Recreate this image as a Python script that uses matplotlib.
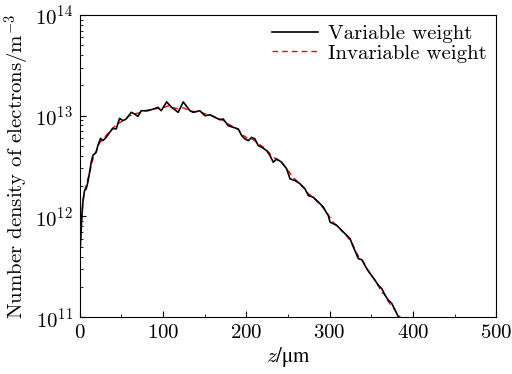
import matplotlib
matplotlib.use("Agg")
import matplotlib.pyplot as plt

plt.rcParams['font.family'] = ['cmr10', 'DejaVu Serif']
plt.rcParams['mathtext.fontset'] = 'cm'
plt.rcParams['axes.formatter.use_mathtext'] = True

# Variable weight (black solid)
z_var = [0, 2.4, 3.6, 5.6, 7.6, 9.6, 11.7, 13.6, 15.6, 19.6, 21.6, 24.9, 27.6, 31.6, 35.7,
         39.7, 43.6, 47.7, 51.7, 55.6, 61.7, 65.7, 69.7, 73.7, 81.7, 87.7, 93.8, 97.7,
         104.2, 110.2, 118.1, 124.2, 132.2, 136.2, 144.2, 150.2, 156.3, 162.3, 168.3,
         172.2, 178.2, 184.3, 190.3, 194.4, 198.3, 202.3, 206.4, 210.3, 214.3, 218.4,
         224.4, 228.4, 232.3, 236.4, 242.4, 248.4, 252.4, 258.4, 264.4, 270.4, 274.4,
         280.4, 286.4, 292.4, 294.5, 298.4, 300.5, 308.5, 316.5, 324.5, 328.5, 334.5,
         338.6, 344.6, 348.6, 354.6, 358.5, 362.6, 366.6, 370.6, 374.6, 380.6, 382.6]
n_var = [4.1e11, 1.02e12, 1.39e12, 1.81e12, 1.88e12, 2.19e12, 2.75e12, 3.45e12, 4.02e12,
         4.34e12, 5.05e12, 5.96e12, 5.65e12, 6.1e12, 6.83e12, 7.48e12, 7.38e12, 9.4e12,
         8.92e12, 9.27e12, 1.08e13, 1.04e13, 9.85e12, 1.12e13, 1.12e13, 1.16e13, 1.21e13,
         1.12e13, 1.37e13, 1.21e13, 1.08e13, 1.37e13, 1.12e13, 1.08e13, 1.12e13, 1.0e13,
         1.02e13, 9.62e12, 9.12e12, 9.27e12, 7.96e12, 7.66e12, 7.38e12, 6.34e12, 5.87e12,
         5.65e12, 6.1e12, 5.87e12, 5.05e12, 4.86e12, 4.5e12, 4.02e12, 3.45e12, 3.72e12,
         3.45e12, 2.97e12, 2.36e12, 2.27e12, 2.11e12, 1.88e12, 1.61e12, 1.55e12, 1.39e12,
         1.24e12, 1.15e12, 1.02e12, 8.79e11, 8.15e11, 7.0e11, 6.01e11, 4.97e11, 3.81e11,
         3.72e11, 3.03e11, 2.71e11, 2.32e11, 2.07e11, 1.92e11, 1.65e11, 1.47e11, 1.37e11,
         1.09e11, 1.0e11]

# Invariable weight (red dashed)
z_inv = [0, 2, 4, 7, 10, 13, 16, 20, 24, 28, 32, 36, 40, 46, 52, 58, 64, 70, 76, 82, 88,
         94, 100, 106, 112, 118, 124, 130, 136, 142, 148, 154, 160, 166, 172, 178, 184,
         190, 196, 202, 208, 214, 220, 226, 232, 238, 244, 250, 256, 262, 268, 274, 280,
         286, 292, 298, 304, 310, 316, 322, 328, 334, 340, 346, 352, 358, 362, 366, 370,
         374, 378, 382, 385]
n_inv = [3.8e11, 9.0e11, 1.5e12, 2.0e12, 2.4e12, 3.0e12, 3.8e12, 4.5e12, 5.4e12, 5.9e12,
         6.4e12, 7.0e12, 7.6e12, 8.3e12, 9.0e12, 9.8e12, 1.04e13, 1.06e13, 1.1e13, 1.14e13,
         1.16e13, 1.18e13, 1.2e13, 1.25e13, 1.2e13, 1.17e13, 1.2e13, 1.14e13, 1.1e13,
         1.1e13, 1.06e13, 1.03e13, 9.9e12, 9.4e12, 9.0e12, 8.3e12, 7.8e12, 7.3e12, 6.4e12,
         5.9e12, 5.8e12, 5.3e12, 4.9e12, 4.4e12, 3.9e12, 3.6e12, 3.3e12, 2.85e12, 2.45e12,
         2.2e12, 1.95e12, 1.7e12, 1.55e12, 1.38e12, 1.22e12, 1.05e12, 8.8e11, 7.9e11,
         7.0e11, 6.2e11, 5.2e11, 4.1e11, 3.6e11, 2.9e11, 2.5e11, 2.1e11, 1.75e11, 1.7e11,
         1.45e11, 1.3e11, 1.2e11, 1.05e11, 1.0e11]

fig = plt.figure(figsize=(5.12, 3.74), dpi=100)
ax = fig.add_axes([0.156, 0.152, 0.813, 0.808])

ax.plot(z_var, n_var, color='black', lw=1.2, label='Variable weight', zorder=3)
ax.plot(z_inv, n_inv, color='red', lw=1.0, ls=(0, (4, 3)), label='Invariable weight', zorder=2)

ax.set_yscale('log')
ax.set_xlim(0, 500)
ax.set_ylim(1e11, 1e14)
ax.set_xticks([0, 100, 200, 300, 400, 500])
ax.set_xticks([50, 150, 250, 350, 450], minor=True)
ax.tick_params(which='both', direction='in', top=False, right=False, labelsize=15)
ax.tick_params(which='major', length=4, pad=5)
ax.tick_params(which='minor', length=2.5)

xl = ax.set_xlabel(r'$z$/μm', fontsize=15, labelpad=2)
xl.set_fontfamily(['STIXGeneral'])
ax.set_ylabel(r'Number density of electrons/m$^{-3}$', fontsize=15, labelpad=2)

leg = ax.legend(loc='upper right', frameon=False, fontsize=15, handlelength=2.2,
                borderaxespad=0.05, labelspacing=0.05, handletextpad=0.5)

fig.savefig('out.png', dpi=100)
